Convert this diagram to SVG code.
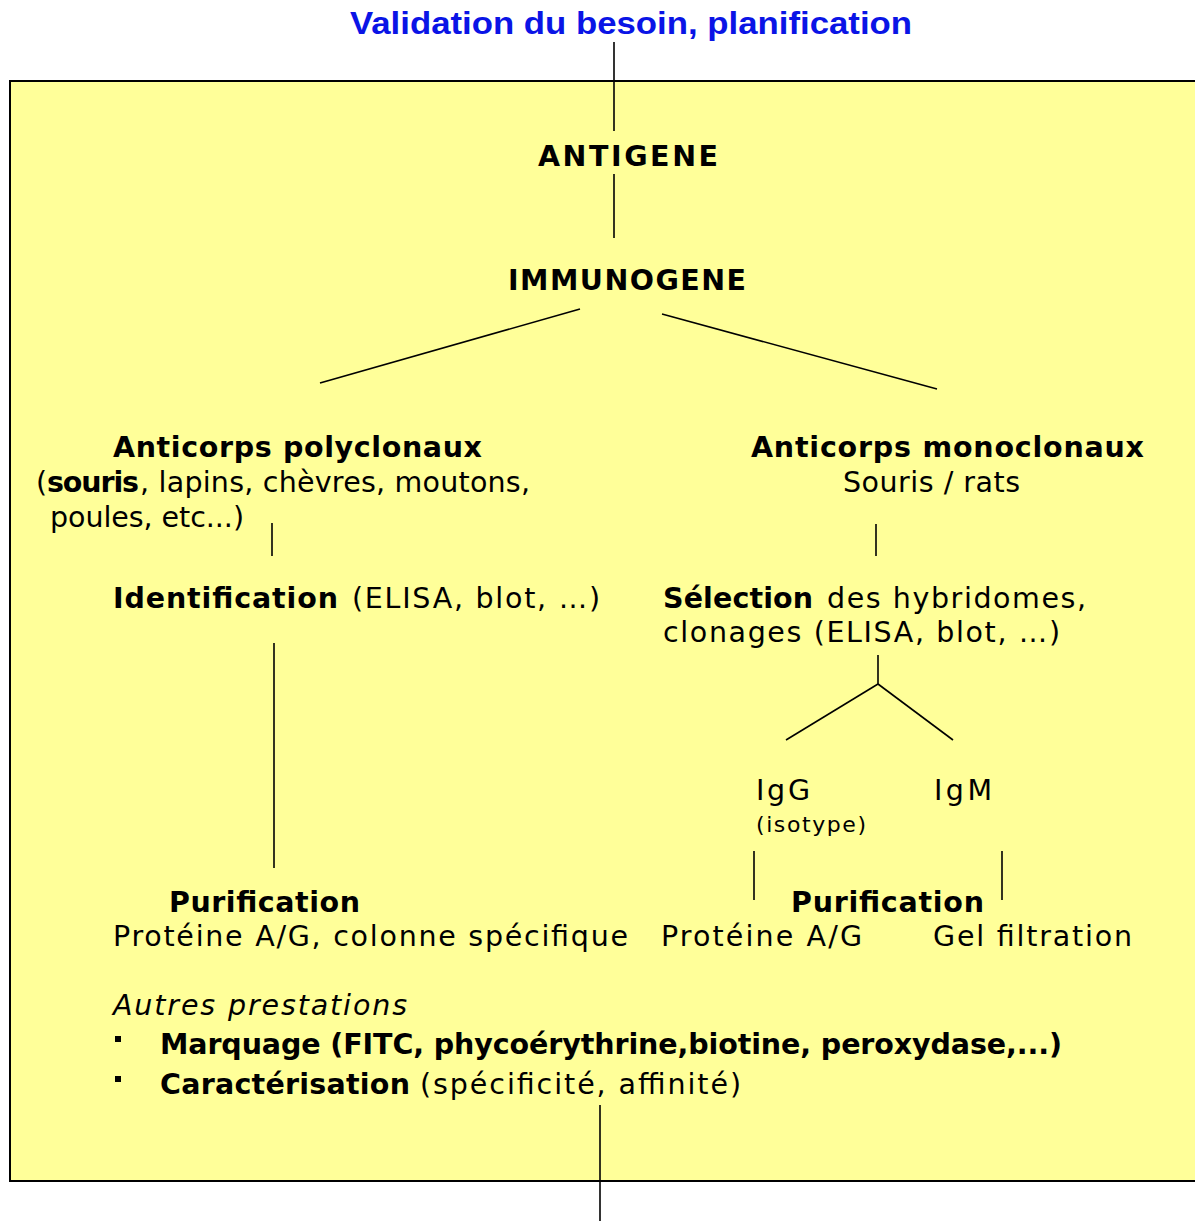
<svg xmlns="http://www.w3.org/2000/svg" width="1195" height="1222" viewBox="0 0 1195 1222">
<style>
.t{font-family:"DejaVu Sans","Verdana",sans-serif;font-size:28.5px;fill:#000}
.b{font-weight:bold}
.i{font-style:italic}
.s{font-size:22px}
.ttl{font-family:"Liberation Sans",Arial,sans-serif;font-weight:bold;font-size:32px;fill:#0a14e6}
.c line{stroke:#000;stroke-width:1.6}
</style>
<rect x="0" y="0" width="1195" height="1222" fill="#fff"/>
<g id="box"><rect x="10" y="81" width="1200" height="1100" fill="#ffff99" stroke="#000" stroke-width="2"/></g>
<g class="c" id="connectors">
<line x1="614" y1="42" x2="614" y2="131"/>
<line x1="614" y1="174" x2="614" y2="238"/>
<line x1="580" y1="309" x2="320" y2="383"/>
<line x1="662" y1="314" x2="937" y2="389"/>
<line x1="272" y1="523" x2="272" y2="556"/>
<line x1="274" y1="643" x2="274" y2="868"/>
<line x1="876" y1="524" x2="876" y2="556"/>
<line x1="878" y1="655" x2="878" y2="684"/>
<line x1="878" y1="684" x2="786" y2="740"/>
<line x1="878" y1="684" x2="953" y2="740"/>
<line x1="754" y1="851" x2="754" y2="900"/>
<line x1="1002" y1="851" x2="1002" y2="900"/>
<line x1="600" y1="1105" x2="600" y2="1221"/>
</g>
<g id="title"><text class="ttl" x="350" y="34" textLength="562" lengthAdjust="spacingAndGlyphs">Validation du besoin, planification</text></g>
<g id="antigene"><text class="t b" x="538" y="166" textLength="180">ANTIGENE</text></g>
<g id="immunogene"><text class="t b" x="508" y="290" textLength="238">IMMUNOGENE</text></g>
<g id="polyclonaux">
<text class="t b" x="113" y="457" textLength="369">Anticorps polyclonaux</text>
<text class="t" x="36" y="492">(</text>
<text class="t b" x="47" y="492" textLength="92">souris</text>
<text class="t" x="140" y="492" textLength="390">, lapins, chèvres, moutons,</text>
<text class="t" x="50" y="527" textLength="194">poules, etc...)</text>
</g>
<g id="identification">
<text class="t b" x="113" y="608" textLength="225">Identification</text>
<text class="t" x="352" y="608" textLength="248">(ELISA, blot, …)</text>
</g>
<g id="purif-poly">
<text class="t b" x="169" y="912" textLength="191">Purification</text>
<text class="t" x="113" y="946" textLength="515">Protéine A/G, colonne spécifique</text>
</g>
<g id="monoclonaux">
<text class="t b" x="751" y="457" textLength="393">Anticorps monoclonaux</text>
<text class="t" x="843" y="492" textLength="177">Souris / rats</text>
</g>
<g id="selection">
<text class="t b" x="663" y="608" textLength="150">Sélection</text>
<text class="t" x="827" y="608" textLength="259">des hybridomes,</text>
<text class="t" x="663" y="642" textLength="397">clonages (ELISA, blot, …)</text>
</g>
<g id="igg">
<text class="t" x="756" y="800" textLength="54">IgG</text>
<text class="t s" x="756" y="832" textLength="110">(isotype)</text>
</g>
<g id="igm"><text class="t" x="934" y="800" textLength="58">IgM</text></g>
<g id="purif-mono">
<text class="t b" x="791" y="912" textLength="193">Purification</text>
<text class="t" x="661" y="946" textLength="201">Protéine A/G</text>
<text class="t" x="933" y="946" textLength="199">Gel filtration</text>
</g>
<g id="autres">
<text class="t i" x="113" y="1015" textLength="294">Autres prestations</text>
<rect x="115" y="1036" width="6" height="6" fill="#000"/>
<text class="t b" x="160" y="1054" textLength="902">Marquage (FITC, phycoérythrine,biotine, peroxydase,...)</text>
<rect x="115" y="1076" width="6" height="6" fill="#000"/>
<text class="t b" x="160" y="1094" textLength="250">Caractérisation</text>
<text class="t" x="420" y="1094" textLength="321">(spécificité, affinité)</text>
</g>
</svg>
